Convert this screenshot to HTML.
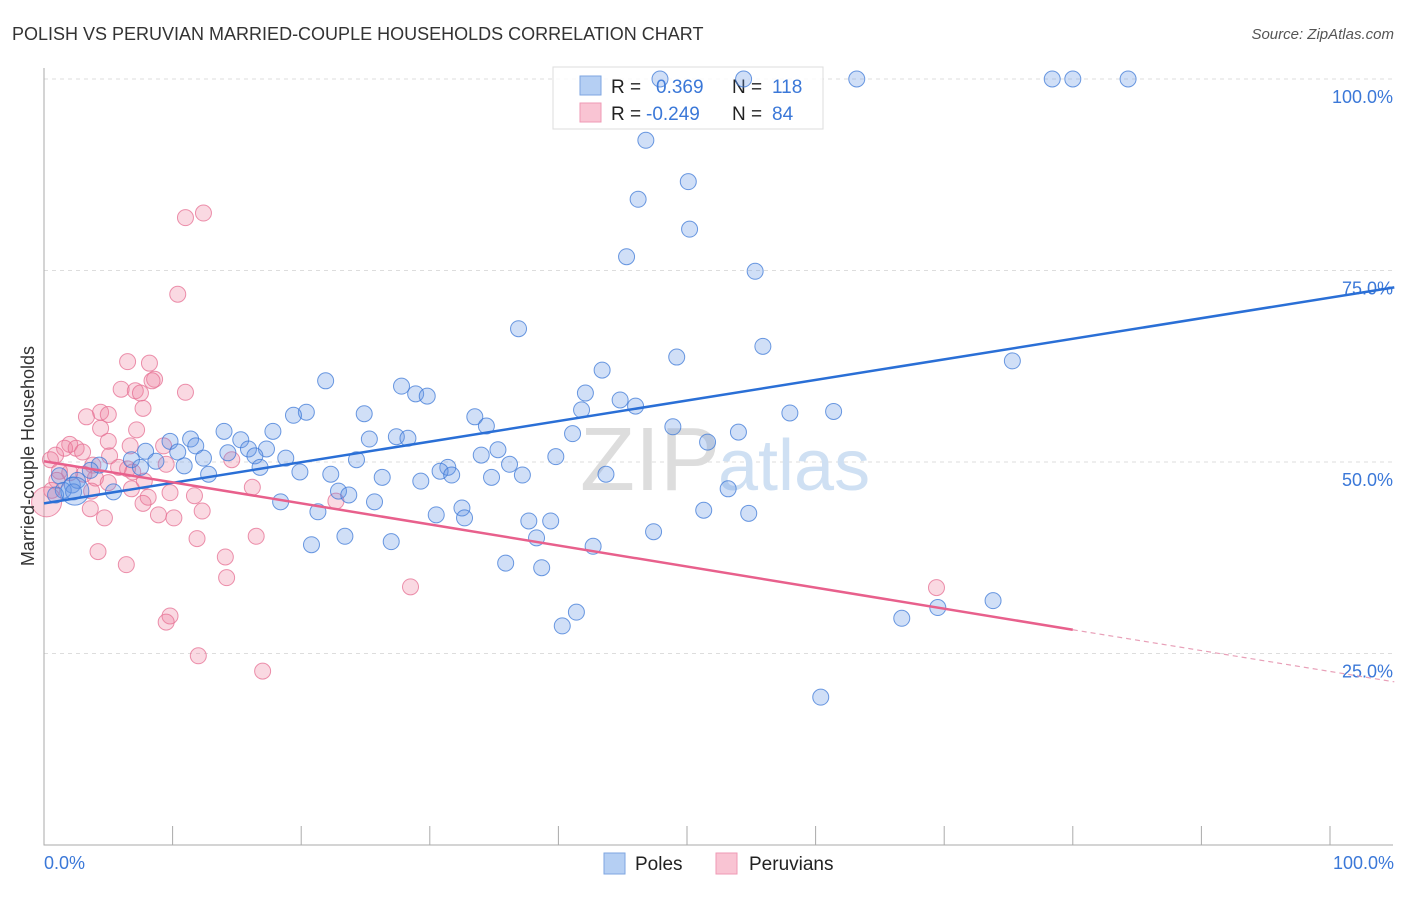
<!DOCTYPE html>
<html><head><meta charset="utf-8"><style>
body{margin:0;background:#fff;font-family:"Liberation Sans",sans-serif}
svg text{font-family:"Liberation Sans",sans-serif}
</style></head><body>
<svg id="chart" width="1406" height="892">
<text x="12" y="40" font-size="18" fill="#333">POLISH VS PERUVIAN MARRIED-COUPLE HOUSEHOLDS CORRELATION CHART</text>
<text x="1394" y="39" font-size="15" fill="#555" font-style="italic" text-anchor="end">Source: ZipAtlas.com</text>
<g id="grid"></g>
<text x="720" y="490" font-size="90" fill="#ddd" text-anchor="end" font-family="Liberation Serif">ZIP</text>
<text x="718" y="490" font-size="72" fill="#cfe0f3">atlas</text>
<g>
<rect x="553" y="67" width="270" height="62" fill="rgba(255,255,255,0.8)" stroke="#ddd"/>
<rect x="580" y="76" width="21" height="19" fill="#b5cff3" stroke="#7ea6e0"/>
<rect x="580" y="103" width="21" height="19" fill="#f9c4d3" stroke="#ef9ab4"/>
<text x="611" y="93" font-size="19" fill="#222">R =</text>
<text x="656" y="93" font-size="19" fill="#3b78d8">0.369</text>
<text x="732" y="93" font-size="19" fill="#222">N =</text>
<text x="772" y="93" font-size="19" fill="#3b78d8">118</text>
<text x="611" y="120" font-size="19" fill="#222">R =</text>
<text x="646" y="120" font-size="19" fill="#3b78d8">-0.249</text>
<text x="732" y="120" font-size="19" fill="#222">N =</text>
<text x="772" y="120" font-size="19" fill="#3b78d8">84</text>
</g>
<g id="pts"></g>
<g id="lines"></g>
<text transform="translate(34,456) rotate(-90)" font-size="18" fill="#333" text-anchor="middle">Married-couple Households</text>
<text x="44" y="869" font-size="18" fill="#3b78d8">0.0%</text>
<text x="1394" y="869" font-size="18" fill="#3b78d8" text-anchor="end">100.0%</text>
<g><rect x="604" y="853" width="21" height="21" fill="#b5cff3" stroke="#7ea6e0"/><text x="635" y="870" font-size="19" fill="#222">Poles</text></g>
<g><rect x="716" y="853" width="21" height="21" fill="#f9c4d3" stroke="#ef9ab4"/><text x="749" y="870" font-size="19" fill="#222">Peruvians</text></g>
</svg>
<script>
const yTicks=[25,50,75,100];
const xTicks=[0,10,20,30,40,50,60,70,80,90,100];
const polesX=[47.9,54.4,63.2,78.4,80.0,84.3,46.8,46.2,50.1,50.2,45.3,55.3,36.9,55.9,49.2,75.3,43.4,21.9,27.8,42.1,28.9,29.8,44.8,46.0,41.8,20.4,19.4,24.9,33.5,58.0,61.4,34.4,48.9,14.0,17.8,41.1,54.0,25.3,27.4,28.3,15.3,11.4,9.8,51.6,11.8,15.9,17.3,7.9,10.4,14.3,35.3,34.0,16.4,18.8,12.4,39.8,24.3,6.8,8.7,36.2,16.8,10.9,7.5,31.4,30.8,19.9,22.3,31.7,12.8,26.3,34.8,37.2,43.7,29.3,4.3,3.6,1.2,2.2,2.6,1.5,2.3,0.9,5.4,22.9,23.7,53.2,18.4,25.7,32.5,21.3,30.5,32.7,51.3,54.8,37.7,39.4,47.4,23.4,38.3,20.8,27.0,42.7,35.9,38.7,73.8,69.5,41.4,66.7,40.3,60.4,2.4];
const polesY=[100,100,100,100,100,100,92.0,84.3,86.6,80.4,76.8,74.9,67.4,65.1,63.7,63.2,62.0,60.6,59.9,59.0,58.9,58.6,58.1,57.3,56.8,56.5,56.1,56.3,55.9,56.4,56.6,54.7,54.6,54.0,54.0,53.7,53.9,53.0,53.3,53.1,52.9,53.0,52.7,52.6,52.1,51.7,51.7,51.4,51.3,51.2,51.6,50.9,50.8,50.5,50.5,50.7,50.3,50.3,50.1,49.7,49.3,49.5,49.3,49.3,48.8,48.7,48.4,48.3,48.4,48.0,48.0,48.3,48.4,47.5,49.6,48.9,48.2,47.0,47.6,46.3,46.1,45.7,46.1,46.2,45.7,46.5,44.8,44.8,44.0,43.5,43.1,42.7,43.7,43.3,42.3,42.3,40.9,40.3,40.1,39.2,39.6,39.0,36.8,36.2,31.9,31.0,30.4,29.6,28.6,19.3,46.2];
const peruX=[12.4,11.0,10.4,6.5,8.2,8.6,8.4,11.0,6.0,7.1,7.5,7.7,4.4,3.3,5.0,4.4,7.2,5.0,6.7,9.3,2.0,1.6,2.5,3.0,0.9,5.1,0.5,3.8,5.8,6.5,1.2,2.0,3.1,6.9,9.5,14.6,4.0,1.0,5.0,7.8,16.2,6.8,0.6,3.7,9.8,11.7,8.1,7.7,22.7,12.3,3.6,8.9,10.1,4.7,16.5,11.9,4.2,14.1,6.4,14.2,28.5,69.4,9.8,9.5,12.0,17.0,0.2];
const peruY=[82.5,81.9,71.9,63.1,62.9,60.8,60.6,59.1,59.5,59.3,59.0,57.0,56.5,55.9,56.2,54.4,54.2,52.7,52.1,52.1,52.3,51.8,51.8,51.3,50.9,50.8,50.3,49.6,49.3,49.1,48.8,48.6,48.4,48.7,49.7,50.3,47.9,47.6,47.3,47.5,46.7,46.5,46.3,46.2,46.0,45.6,45.4,44.6,44.9,43.6,43.9,43.1,42.7,42.7,40.3,40.0,38.3,37.6,36.6,34.9,33.7,33.6,29.9,29.1,24.7,22.7,44.8];
const polesFit=[44.6,72.8];
const peruFit=[50.1,28.1,21.3];
const NS='http://www.w3.org/2000/svg';
const X=v=>44+v*12.86, Y=v=>845-v*7.66;
function mk(tag,attrs,parent){const e=document.createElementNS(NS,tag);for(const k in attrs)e.setAttribute(k,attrs[k]);parent.appendChild(e);return e;}
const grid=document.getElementById('grid');
yTicks.forEach(t=>{
 const l=mk('line',{x1:44,x2:1393,y1:Y(t),y2:Y(t),stroke:'#ddd','stroke-dasharray':'4,4'},grid);
 
 
 const tx=mk('text',{x:1393,y:Y(t)+24,'font-size':18,fill:'#3b78d8','text-anchor':'end'},grid);
 tx.textContent=t.toFixed(1)+'%';
 
 
});
const ax=mk('path',{d:'M44,68V845H1393',fill:'none',stroke:'#aaa'},grid);


xTicks.forEach(t=>{
 const l=mk('line',{x1:X(t),x2:X(t),y1:826,y2:845,stroke:'#aaa'},grid);
 
 
});
const pts=document.getElementById('pts');
peruX.forEach((v,i)=>{
 const c=mk('circle',{cx:X(v),cy:Y(peruY[i]),r:i==peruX.length-1?15:8,fill:'rgba(240,130,160,0.3)',stroke:'rgba(230,110,145,0.75)'},pts);
 
 
});
polesX.forEach((v,i)=>{
 const c=mk('circle',{cx:X(v),cy:Y(polesY[i]),r:i==polesX.length-1?14:8,fill:'rgba(100,150,230,0.3)',stroke:'rgba(60,120,215,0.75)'},pts);
 
 
});
const lines=document.getElementById('lines');
const b=mk('line',{x1:X(0),y1:Y(polesFit[0]),x2:X(105),y2:Y(polesFit[1]),stroke:'#2a6fd6','stroke-width':2.5},lines);


const p=mk('line',{x1:X(0),y1:Y(peruFit[0]),x2:X(80),y2:Y(peruFit[1]),stroke:'#e8608c','stroke-width':2.5},lines);


const pd=mk('line',{x1:X(80),y1:Y(peruFit[1]),x2:X(105),y2:Y(peruFit[2]),stroke:'#e8a0b8','stroke-width':1.2,'stroke-dasharray':'5,4'},lines);


</script>
</body></html>
